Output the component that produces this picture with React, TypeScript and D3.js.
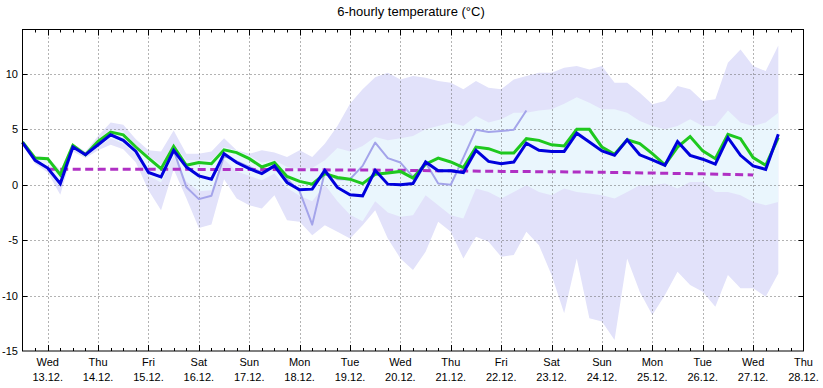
import * as d3 from 'd3'
import {useRef, useEffect} from 'react'

// 6-hourly steps starting 13.12. 00:00
const blue = [3.8, 2.2, 1.5, 0.1, 3.4, 2.7, 3.6, 4.5, 4.0, 3.0, 1.1, 0.7, 3.1, 1.6, 0.8, 0.5, 2.8, 2.0, 1.45, 1.0, 1.7,
  0.2, -0.45, -0.4, 1.3, -0.25, -0.9, -1.0, 1.3, 0.05, 0.0, 0.1, 2.05, 1.25, 1.25, 1.1, 3.1, 2.1, 1.9, 2.05, 3.75,
  3.1, 3.0, 3.0, 4.65, 3.85, 3.05, 2.65, 4.05, 2.7, 2.25, 1.75, 3.9, 2.65, 2.3, 1.85, 4.25, 2.65, 1.7, 1.38, 4.55]
const green = [3.85, 2.4, 2.35, 0.9, 3.55, 2.7, 3.9, 4.75, 4.5, 3.4, 2.4, 1.45, 3.45, 1.75, 2.0, 1.9, 3.15, 2.9, 2.35, 1.6, 2.0,
  0.75, 0.3, 0.05, 1.0, 0.65, 0.5, 0.1, 0.95, 1.05, 1.2, 0.6, 1.85, 2.4, 2.05, 1.55, 3.4, 3.25, 2.85, 2.85, 4.15,
  4.0, 3.6, 3.5, 5.0, 5.0, 3.4, 2.75, 4.05, 3.7, 2.8, 1.8, 3.4, 4.35, 3.05, 2.35, 4.55, 4.15, 2.45, 1.75, 4.25]
const control = [3.8, 2.2, 1.5, 0.1, 3.4, 2.7, 3.6, 4.5, 4.0, 3.0, 1.1, 0.7, 3.1, -0.2, -1.3, -1.0, 2.6, 2.1, 1.6, 1.1, 1.7,
  0.5, -0.6, -3.6, 1.15, 0.5, 0.5, 1.7, 3.8, 2.4, 2.0, 0.7, 2.0, 0.1, 0.0, 2.45, 4.95, 4.75, 4.85, 4.95, 6.7]
const outerHi = [4.0, 2.6, 2.5, 1.3, 3.7, 3.0, 4.4, 5.6, 5.4, 4.1, 3.1, 3.0, 4.9, 2.8, 2.8, 3.0, 4.2, 3.1, 2.8, 3.1, 2.9,
  2.5, 3.1, 2.5, 3.7, 5.3, 7.3, 8.6, 9.7, 10.1, 9.5, 9.8, 9.65, 9.35, 9.2, 8.6, 9.35, 8.75, 8.6, 9.5, 9.8,
  10.1, 10.1, 10.55, 10.7, 10.4, 10.7, 9.2, 9.2, 8.3, 7.25, 7.55, 8.9, 8.6, 7.55, 7.7, 11.0, 12.2, 10.7, 10.25, 12.55]
const outerLo = [3.6, 1.9, 1.1, -0.9, 3.0, 2.4, 3.1, 3.6, 3.2, 2.0, -0.5, -2.3, 1.4, -1.2, -3.9, -3.6, 0.5, -1.25, -1.85, -2.15, -0.95,
  -3.2, -3.35, -4.55, -3.65, -4.25, -4.85, -3.65, -2.3, -4.85, -6.65, -7.7, -6.05, -3.35, -4.25, -6.65, -4.7, -5.15, -6.5, -6.35, -4.25,
  -5.45, -8.15, -11.6, -6.65, -12.05, -12.35, -14.0, -6.65, -9.65, -11.75, -9.95, -7.85, -9.05, -9.65, -11.0, -8.15, -9.35, -9.35, -10.1, -8.0]
const innerHi = [3.9, 2.5, 2.4, 1.0, 3.6, 2.8, 4.1, 5.0, 4.8, 3.6, 2.6, 1.8, 3.7, 2.2, 2.2, 2.2, 3.4, 3.1, 2.6, 2.0, 2.2,
  1.6, 1.4, 1.5, 2.2, 3.3, 3.0, 3.5, 4.3, 4.0, 4.2, 4.4, 5.0, 5.3, 5.6, 5.3, 6.2, 5.6, 5.9, 6.5, 6.5,
  6.7, 6.8, 7.3, 7.9, 7.4, 6.8, 6.8, 6.5, 5.75, 5.3, 5.0, 5.3, 5.9, 5.3, 5.3, 6.7, 5.6, 5.3, 5.6, 6.5]
const innerLo = [3.7, 2.1, 1.3, -0.2, 3.2, 2.5, 3.4, 4.2, 3.7, 2.7, 0.8, 0.2, 2.6, 0.3, -0.6, -0.5, 2.3, 1.2, 0.8, 0.4, 1.0,
  -0.3, -1.0, -1.5, 0.0, -1.5, -2.7, -3.3, -1.5, -2.5, -2.9, -2.75, -0.95, -1.85, -2.75, -3.05, -0.35, -0.65, -1.25, -0.65, -0.05,
  -0.65, -0.95, -0.35, -0.65, -0.8, -0.95, -1.25, -0.65, -0.05, -0.05, 0.1, -0.35, 0.25, 0.25, -0.65, -0.65, -0.95, -1.55, -1.85, -1.55]
// daily at 12:00, 13.12. .. 27.12.
const climate = [1.4, 1.4, 1.4, 1.38, 1.37, 1.35, 1.33, 1.3, 1.25, 1.2, 1.17, 1.12, 1.05, 0.98, 0.88]

const dayNames = ['Wed', 'Thu', 'Fri', 'Sat', 'Sun', 'Mon', 'Tue', 'Wed', 'Thu', 'Fri', 'Sat', 'Sun', 'Mon', 'Tue', 'Wed', 'Thu']
const dayDates = ['13.12.', '14.12.', '15.12.', '16.12.', '17.12.', '18.12.', '19.12.', '20.12.', '21.12.', '22.12.',
  '23.12.', '24.12.', '25.12.', '26.12.', '27.12.', '28.12.']
const yTicks = [-15, -10, -5, 0, 5, 10]

export default function App() {
  const svgRef = useRef(null)

  const svgWidth = 823
  const svgHeight = 388
  const margin = {left: 22.5, right: 19.5, top: 29.5, bottom: 37}

  useEffect(() => {
    const SVG = d3.select(svgRef.current)
    SVG.selectAll('*').remove()
    const font = '"Liberation Sans", Arial, sans-serif'

    const xScale = d3.scaleLinear()
      .domain([0, 372])
      .range([margin.left, svgWidth - margin.right])
    const yScale = d3.scaleLinear()
      .domain([-15, 14])
      .range([svgHeight - margin.bottom, margin.top])

    const x0 = margin.left, x1 = svgWidth - margin.right
    const y0 = margin.top, y1 = svgHeight - margin.bottom

    const hrs = (i: number) => i * 6

    // bands
    const band = (lo: number[], hi: number[], fill: string) => {
      const area = d3.area<number>()
        .x((d, i) => xScale(hrs(i)))
        .y0((d, i) => yScale(lo[i]))
        .y1((d) => yScale(d))
      SVG.append('path').attr('d', area(hi)).attr('fill', fill)
    }
    band(outerLo, outerHi, '#e2e2fa')
    band(innerLo, innerHi, '#eaf6fd')

    // grid
    const grid = SVG.append('g').attr('stroke', '#666').attr('stroke-width', 1).attr('stroke-dasharray', '1,3')
    yTicks.filter(t => t > -15).forEach(t => {
      grid.append('line').attr('x1', x0).attr('x2', x1)
        .attr('y1', Math.round(yScale(t)) + 0.5).attr('y2', Math.round(yScale(t)) + 0.5)
    })
    dayNames.forEach((d, k) => {
      const x = Math.round(xScale(12 + 24 * k)) + 0.5
      if (x < x1 - 2) grid.append('line').attr('x1', x).attr('x2', x).attr('y1', y0).attr('y2', y1)
    })

    // lines
    const line = d3.line<number>()
      .x((d, i) => xScale(hrs(i)))
      .y((d) => yScale(d))
    SVG.append('path').attr('d', line(control)).attr('fill', 'none')
      .attr('stroke', '#a4a4ea').attr('stroke-width', 2).attr('stroke-linejoin', 'round')

    const climLine = d3.line<number>()
      .x((d, k) => xScale(12 + 24 * k))
      .y((d) => yScale(d))
    SVG.append('path').attr('d', climLine(climate)).attr('fill', 'none')
      .attr('stroke', '#b030c4').attr('stroke-width', 3).attr('stroke-dasharray', '8,4.5')

    SVG.append('path').attr('d', line(green)).attr('fill', 'none')
      .attr('stroke', '#1ec81e').attr('stroke-width', 3).attr('stroke-linejoin', 'miter')
    SVG.append('path').attr('d', line(blue)).attr('fill', 'none')
      .attr('stroke', '#0000dc').attr('stroke-width', 3).attr('stroke-linejoin', 'miter')

    // frame
    SVG.append('rect').attr('x', x0).attr('y', y0).attr('width', x1 - x0).attr('height', y1 - y0)
      .attr('fill', 'none').attr('stroke', '#000').attr('stroke-width', 1)

    // x ticks (inside, top and bottom)
    const ticks = SVG.append('g').attr('stroke', '#000').attr('stroke-width', 1)
    d3.range(6, 372, 6).forEach(h => {
      const x = Math.round(xScale(h)) + 0.5
      const len = (h - 12) % 24 === 0 ? 6 : 3
      ticks.append('line').attr('x1', x).attr('x2', x).attr('y1', y1).attr('y2', y1 - len)
      ticks.append('line').attr('x1', x).attr('x2', x).attr('y1', y0).attr('y2', y0 + len)
    })
    yTicks.filter(t => t > -15).forEach(t => {
      const y = Math.round(yScale(t)) + 0.5
      ticks.append('line').attr('x1', x0).attr('x2', x0 + 5).attr('y1', y).attr('y2', y)
      ticks.append('line').attr('x1', x1).attr('x2', x1 - 5).attr('y1', y).attr('y2', y)
    })

    // y labels
    SVG.append('g').selectAll('text').data(yTicks).enter().append('text')
      .attr('x', 18).attr('y', d => yScale(d) + 4)
      .attr('text-anchor', 'end').attr('font-family', font).attr('font-size', 11).attr('fill', '#000')
      .text(d => String(d))

    // x labels
    const xl = SVG.append('g').attr('font-family', font).attr('font-size', 11).attr('fill', '#000')
      .attr('text-anchor', 'middle')
    dayNames.forEach((d, k) => {
      const x = xScale(12 + 24 * k)
      xl.append('text').attr('x', x).attr('y', 366).text(d)
      xl.append('text').attr('x', x).attr('y', 381).text(dayDates[k])
    })

    SVG.append('text').attr('x', 411).attr('y', 16).attr('text-anchor', 'middle')
      .attr('font-family', font).attr('font-size', 13).attr('fill', '#000')
      .text('6-hourly temperature (°C)')
  }, [])

  return <svg ref={svgRef} width={svgWidth} height={svgHeight}
    style={{position: 'absolute', left: 0, top: 0, background: '#fff'}}></svg>
}
